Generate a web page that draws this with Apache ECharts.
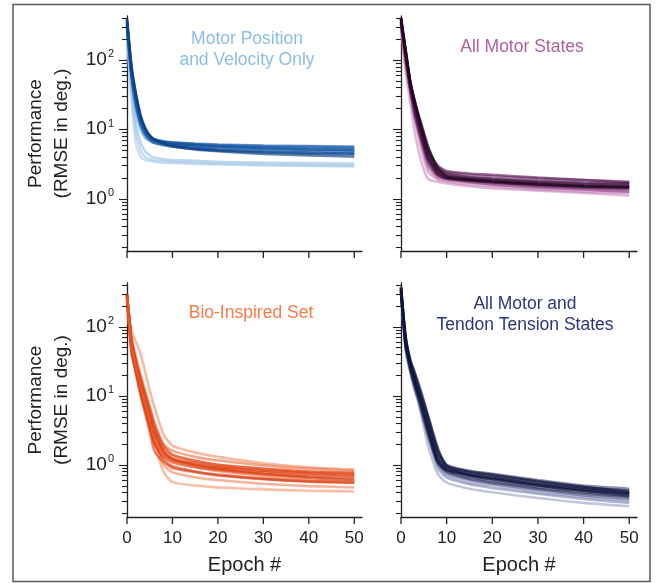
<!DOCTYPE html>
<html>
<head>
<meta charset="utf-8">
<script src="https://cdn.jsdelivr.net/npm/echarts@6/dist/echarts.min.js"></script>
<style>
  html, body { margin: 0; padding: 0; background: #fff; }
  #chart { width: 662px; height: 583px; }
</style>
</head>
<body>
<div id="chart"></div>
<script>
var epochs = [0, 1, 2, 3, 4, 5, 6, 8, 10, 15, 20, 30, 40, 50];
var xTicks = [0, 10, 20, 30, 40, 50];
var yMajorTicks = [1, 10, 100];
var yMinorTicks = [0.2, 0.3, 0.4, 0.5, 0.6, 0.7, 0.8, 0.9, 2, 3, 4, 5, 6, 7, 8, 9,
  20, 30, 40, 50, 60, 70, 80, 90, 200, 300, 400];

var panelTitles = ['Motor Position\nand Velocity Only', 'All Motor States',
  'Bio-Inspired Set', 'All Motor and\nTendon Tension States'];
var titleColors = ['#8dbce8', '#b0609f', '#f47b48', '#2d3679'];

// RMSE per run (light -> dark)
var motorPosVelRuns = [
  [180, 25, 6.0, 4.0, 3.6, 3.5, 3.4, 3.3, 3.25, 3.15, 3.1, 3.0, 2.95, 2.9],
  [220, 35, 9, 5.0, 4.0, 3.7, 3.55, 3.45, 3.4, 3.3, 3.2, 3.1, 3.05, 3.0],
  [250, 40, 12, 6.5, 4.8, 4.2, 3.9, 3.7, 3.6, 3.5, 3.4, 3.3, 3.25, 3.2],
  [300, 55, 18, 10, 7.5, 6.8, 6.4, 6.1, 5.9, 5.6, 5.4, 5.1, 4.9, 4.8],
  [320, 60, 22, 12, 8.5, 7.3, 6.8, 6.4, 6.2, 5.9, 5.7, 5.4, 5.2, 5.1],
  [330, 65, 25, 13, 9, 7.6, 7.0, 6.6, 6.4, 6.1, 5.9, 5.7, 5.6, 5.5],
  [350, 70, 27, 14, 9.5, 7.8, 7.0, 6.4, 6.1, 5.7, 5.5, 5.2, 5.0, 4.9],
  [310, 60, 24, 13, 9, 7.2, 6.5, 6.0, 5.7, 5.2, 4.9, 4.6, 4.4, 4.3],
  [340, 68, 26, 13.5, 9.2, 7.5, 6.9, 6.5, 6.3, 6.0, 5.8, 5.55, 5.4, 5.3],
  [360, 72, 28, 14.5, 9.8, 7.9, 7.2, 6.7, 6.5, 6.2, 6.0, 5.8, 5.7, 5.6],
  [300, 58, 21, 11.5, 8.3, 7.0, 6.3, 5.9, 5.6, 5.2, 5.0, 4.7, 4.55, 4.45],
  [380, 78, 31, 15.5, 10.2, 8.1, 7.2, 6.6, 6.3, 5.9, 5.6, 5.3, 5.1, 5.0],
  [370, 75, 30, 15, 10, 8, 7.0, 6.3, 5.9, 5.4, 5.1, 4.8, 4.6, 4.5],
  [390, 80, 32, 16, 10.5, 8.2, 7.1, 6.2, 5.7, 5.1, 4.8, 4.4, 4.2, 4.0]
];
var allMotorRuns = [
  [300, 70, 25, 9, 4.5, 2.6, 1.9, 1.75, 1.65, 1.5, 1.4, 1.3, 1.2, 1.1],
  [320, 90, 35, 14, 7, 3.8, 2.4, 1.9, 1.75, 1.6, 1.5, 1.35, 1.25, 1.2],
  [330, 95, 36, 15, 8, 4.5, 2.8, 2.0, 1.85, 1.7, 1.6, 1.45, 1.35, 1.3],
  [350, 110, 40, 18, 9, 5, 3.0, 2.1, 1.9, 1.75, 1.65, 1.5, 1.4, 1.35],
  [355, 115, 43, 19, 10, 5.8, 3.6, 2.2, 1.95, 1.75, 1.6, 1.45, 1.35, 1.25],
  [380, 130, 46, 22, 12, 6.5, 4.0, 2.4, 2.1, 1.95, 1.85, 1.7, 1.6, 1.55],
  [360, 120, 42, 20, 11, 6, 3.8, 2.6, 2.4, 2.2, 2.1, 1.95, 1.85, 1.75],
  [385, 132, 47, 23, 13, 7.2, 4.4, 2.6, 2.2, 2.0, 1.9, 1.75, 1.65, 1.6],
  [400, 140, 50, 25, 14, 8, 5, 3.0, 2.5, 2.3, 2.2, 2.0, 1.85, 1.7],
  [340, 100, 38, 16, 9, 5.2, 3.3, 2.2, 1.95, 1.8, 1.7, 1.55, 1.45, 1.4],
  [395, 138, 50, 25, 14, 8.5, 5.2, 2.9, 2.3, 2.05, 1.95, 1.8, 1.7, 1.65],
  [370, 125, 45, 21, 11, 6.2, 3.8, 2.3, 2.0, 1.85, 1.75, 1.6, 1.5, 1.45],
  [390, 135, 48, 24, 13, 7.5, 4.5, 2.5, 2.05, 1.85, 1.75, 1.6, 1.5, 1.45],
  [410, 140, 50, 26, 15, 9, 5.5, 2.8, 2.1, 1.9, 1.8, 1.65, 1.55, 1.5]
];
var bioInspiredRuns = [
  [220, 50, 22, 11, 6, 3.5, 2.0, 0.8, 0.56, 0.5, 0.47, 0.44, 0.42, 0.41],
  [250, 85, 60, 40, 22, 12, 7, 2.8, 1.9, 1.5, 1.3, 1.05, 0.92, 0.85],
  [270, 70, 35, 20, 12, 7, 4.2, 2.0, 1.6, 1.3, 1.15, 0.98, 0.88, 0.82],
  [265, 48, 24, 12, 7, 4, 2.3, 1.0, 0.78, 0.66, 0.6, 0.53, 0.49, 0.47],
  [290, 60, 28, 15, 9, 5, 3.0, 1.5, 1.2, 1.02, 0.92, 0.82, 0.75, 0.7],
  [300, 55, 25, 12, 6.5, 3.5, 2.0, 1.3, 1.08, 0.92, 0.84, 0.74, 0.67, 0.63],
  [260, 45, 20, 10, 5.5, 3.0, 1.6, 1.1, 0.9, 0.78, 0.7, 0.62, 0.57, 0.55],
  [280, 65, 32, 18, 10.5, 6.5, 3.8, 1.9, 1.4, 1.15, 1.0, 0.87, 0.79, 0.76],
  [240, 40, 22, 11, 6.5, 3.8, 2.2, 1.2, 0.95, 0.8, 0.72, 0.63, 0.58, 0.56],
  [300, 60, 30, 16, 9.5, 5.5, 3.2, 1.6, 1.2, 0.97, 0.86, 0.73, 0.65, 0.6],
  [285, 62, 30, 17, 10, 6, 3.5, 1.75, 1.35, 1.12, 1.0, 0.88, 0.8, 0.76],
  [295, 58, 27, 14, 8, 4.6, 2.7, 1.45, 1.18, 1.0, 0.9, 0.78, 0.71, 0.67],
  [275, 52, 29, 16, 9.2, 5.2, 3.0, 1.55, 1.22, 1.05, 0.94, 0.82, 0.76, 0.72],
  [270, 50, 26, 13, 7.5, 4.2, 2.4, 1.35, 1.12, 0.93, 0.81, 0.69, 0.61, 0.56]
];
var motorTendonRuns = [
  [300, 55, 25, 14, 7, 3.5, 1.8, 0.75, 0.55, 0.45, 0.4, 0.33, 0.28, 0.25],
  [320, 60, 28, 16, 9, 5, 2.8, 1.0, 0.7, 0.55, 0.5, 0.4, 0.34, 0.3],
  [350, 45, 22, 12, 7.5, 4.2, 2.4, 0.9, 0.65, 0.52, 0.46, 0.38, 0.32, 0.28],
  [340, 65, 30, 18, 11, 6.5, 3.8, 1.4, 0.9, 0.75, 0.68, 0.56, 0.47, 0.42],
  [325, 52, 25, 14, 8.5, 4.8, 2.7, 1.05, 0.75, 0.6, 0.53, 0.43, 0.36, 0.32],
  [360, 70, 32, 20, 12, 7, 4.2, 1.6, 1.0, 0.82, 0.74, 0.6, 0.5, 0.45],
  [330, 50, 24, 13, 8, 4.5, 2.6, 1.1, 0.8, 0.62, 0.55, 0.45, 0.38, 0.34],
  [345, 63, 29, 17, 10.5, 6.3, 3.6, 1.3, 0.88, 0.72, 0.64, 0.52, 0.44, 0.39],
  [380, 75, 34, 22, 14, 8.5, 5, 1.8, 0.95, 0.7, 0.62, 0.5, 0.42, 0.38],
  [335, 57, 26, 15, 9, 5.2, 3.0, 1.1, 0.8, 0.66, 0.58, 0.47, 0.4, 0.35],
  [310, 62, 29, 17, 10, 6, 3.4, 1.25, 0.85, 0.7, 0.62, 0.5, 0.42, 0.36],
  [365, 72, 33, 21, 13, 8, 4.8, 1.7, 0.98, 0.78, 0.7, 0.56, 0.47, 0.42],
  [370, 68, 31, 19, 11.5, 7.5, 4.5, 1.5, 0.95, 0.8, 0.72, 0.58, 0.48, 0.4],
  [360, 58, 27, 15, 9.5, 5.5, 3.2, 1.15, 0.85, 0.72, 0.65, 0.52, 0.44, 0.38]
];

var panelRuns = [motorPosVelRuns, allMotorRuns, bioInspiredRuns, motorTendonRuns];
var palettes = [
  ['#a9cbeb', '#a0c5e8', '#96bfe5', '#4f93d0', '#3f86c9', '#3a7cc4', '#2f72bd', '#2a6bb7',
   '#2464b1', '#1e5ca9', '#1954a0', '#134c98', '#0e448d', '#083a7c'],
  ['#c98bbd', '#bf7cb2', '#b36ca6', '#a45b98', '#94498a', '#84397c', '#74296e', '#641f60',
   '#561852', '#481244', '#3b0d38', '#2f092d', '#250722', '#1b0519'],
  ['#f59670', '#f48c64', '#ee6a3e', '#f28258', '#e6501f', '#e04414', '#dc3c10', '#d8360c',
   '#d4320a', '#cf2c08', '#e85424', '#dc400f', '#e24a1a', '#ec6232'],
  ['#9aa0c4', '#8a91ba', '#7d84b0', '#666e9f', '#525a8d', '#41497c', '#33396b', '#2c3263',
   '#272d5c', '#1d2250', '#181d48', '#151943', '#11153c', '#0e1136']
];

var FONT = "'Liberation Sans', Arial, sans-serif";
var INK = '#222';

var chart = echarts.init(document.getElementById('chart'), null, { renderer: 'canvas' });

var gridPos = [
  { left: 127, top: 16, width: 235, height: 235 },
  { left: 401, top: 16, width: 236, height: 235 },
  { left: 127, top: 283, width: 235, height: 234 },
  { left: 401, top: 283, width: 236, height: 234 }
];

var grids = [], xAxes = [], yAxes = [], series = [], graphics = [];

gridPos.forEach(function (g, i) {
  grids.push({ left: g.left, top: g.top, width: g.width, height: g.height, containLabel: false });

  xAxes.push({
    gridIndex: i, type: 'value', min: 0, max: 51.7, interval: 10,
    axisLine: { lineStyle: { color: INK, width: 1.3 } },
    axisTick: { show: false },
    splitLine: { show: false },
    axisLabel: {
      show: i >= 2, showMaxLabel: false, margin: 13,
      fontSize: 17, color: INK, fontFamily: FONT,
      formatter: function (v) { return xTicks.indexOf(v) >= 0 ? String(v) : ''; }
    },
    name: i >= 2 ? 'Epoch #' : '',
    nameLocation: 'middle', nameGap: 38,
    nameTextStyle: { fontSize: 20, color: INK, fontFamily: FONT }
  });

  yAxes.push({
    gridIndex: i, type: 'log', logBase: 10, min: 0.175, max: 430,
    axisLine: { show: true, lineStyle: { color: INK, width: 1.3 } },
    axisTick: { show: false },
    minorTick: { show: false },
    splitLine: { show: false },
    axisLabel: {
      show: i % 2 === 0, showMinLabel: false, showMaxLabel: false, margin: 13,
      formatter: function (v) {
        var e = Math.round(Math.log(v) / Math.LN10);
        if (Math.abs(Math.pow(10, e) - v) > 1e-6 * v) return '';
        return '{b|10}{s|' + e + '}';
      },
      rich: {
        b: { fontSize: 19, color: INK, fontFamily: FONT, lineHeight: 22 },
        s: { fontSize: 11, color: INK, fontFamily: FONT, verticalAlign: 'top', lineHeight: 12, padding: [0, 0, 8, 1] }
      }
    },
    name: i % 2 === 0 ? 'Performance\n(RMSE in deg.)' : '',
    nameLocation: 'middle', nameRotate: 90, nameGap: 52,
    nameTextStyle: { fontSize: 19, color: INK, fontFamily: FONT, lineHeight: 26 }
  });

  // the runs
  panelRuns[i].forEach(function (run, k) {
    series.push({
      type: 'line', xAxisIndex: i, yAxisIndex: i,
      data: epochs.map(function (e, j) { return [e, run[j]]; }),
      showSymbol: false, silent: true, smooth: 0.2,
      lineStyle: { color: palettes[i][k], width: 2.6, opacity: 0.6 },
      z: 2 + k
    });
  });

  // x ticks (pointing down), drawn through the axis scale
  series.push({
    type: 'custom', xAxisIndex: i, yAxisIndex: i, silent: true, z: 20,
    data: xTicks.map(function (v) { return [v, 1]; }),
    renderItem: function (params, api) {
      var cs = params.coordSys;
      var px = api.coord([api.value(0), 1])[0];
      var py = cs.y + cs.height;
      return { type: 'line', shape: { x1: px, y1: py, x2: px, y2: py + 7 },
        style: { stroke: INK, lineWidth: 1.3 } };
    }
  });

  // y major + minor ticks (pointing left)
  series.push({
    type: 'custom', xAxisIndex: i, yAxisIndex: i, silent: true, z: 20,
    data: yMajorTicks.map(function (v) { return [0, v, 8]; })
      .concat(yMinorTicks.map(function (v) { return [0, v, 5]; })),
    renderItem: function (params, api) {
      var cs = params.coordSys;
      var py = Math.round(api.coord([0, api.value(1)])[1]) + 0.5;
      var len = api.value(2);
      return { type: 'line', shape: { x1: cs.x - len, y1: py, x2: cs.x, y2: py },
        style: { stroke: INK, lineWidth: 1.1 } };
    }
  });
});

// panel titles
var titlePos = [[247, 29], [522, 37], [251, 303], [525, 294]];
panelTitles.forEach(function (t, i) {
  graphics.push({
    type: 'text', x: titlePos[i][0], y: titlePos[i][1], z: 30,
    style: { text: t, align: 'center', verticalAlign: 'top',
      fontSize: 17.5, lineHeight: 21, fontFamily: FONT, fill: titleColors[i] }
  });
});

// outer frame
graphics.push({
  type: 'rect', z: 30,
  shape: { x: 13, y: 4.5, width: 637, height: 577 },
  style: { fill: 'none', stroke: '#5a5a5a', lineWidth: 1.5 }
});

chart.setOption({
  animation: false,
  backgroundColor: '#fff',
  grid: grids,
  xAxis: xAxes,
  yAxis: yAxes,
  series: series,
  graphic: graphics
});
</script>
</body>
</html>
